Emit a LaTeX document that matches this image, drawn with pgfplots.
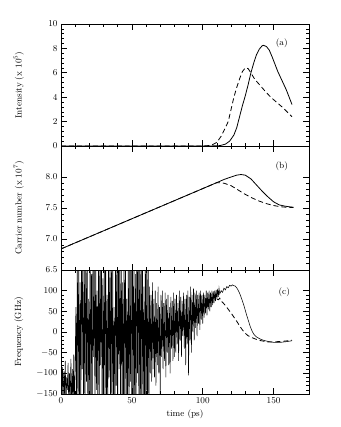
\documentclass[border=0pt]{standalone}
\usepackage{pgfplots}
\pgfplotsset{compat=1.18}
\usepackage{pgfplotstable}

% intensity, panel (a)
\pgfplotstableread{
t I
0 0
100 0
105 0
112 0.03
116 0.15
119 0.4
122 0.9
124 1.5
126 2.4
128 3.3
130 4.1
132 5.0
134 6.0
136 6.8
138 7.5
140 7.95
142 8.22
143 8.25
145 8.15
147 7.85
149 7.3
151 6.7
153 6.1
155 5.6
157 5.1
159 4.6
161 4.0
163 3.4
}\intsolid
\pgfplotstableread{
t I
0 0
100 0
106 0.05
110 0.3
113 0.8
116 1.5
118 2.0
120 3.0
122 4.0
124 4.8
126 5.5
128 6.1
130 6.4
132 6.35
134 6.0
136 5.6
138 5.3
141 4.9
144 4.5
148 4.0
152 3.6
156 3.2
160 2.75
163 2.4
}\intdash

% carrier number, panel (b)
\pgfplotstableread{
t N
0 6.84
110 7.91
115 7.96
120 8.0
124 8.03
127 8.04
130 8.03
134 7.97
138 7.87
142 7.77
146 7.68
150 7.6
154 7.55
158 7.53
164 7.51
}\carsolid
\pgfplotstableread{
t N
0 6.84
110 7.91
115 7.9
120 7.86
125 7.79
130 7.72
135 7.66
140 7.61
145 7.57
150 7.54
155 7.52
160 7.51
164 7.51
}\cardash

% frequency chirp, panel (c)
\pgfplotstableread{
t f
0 -120
0.5 -160
1 -85
1.5 -170
2 -95
2.5 -150
3 -70
3.5 -180
4 -110
4.5 -140
5 -75
5.5 -190
6 -100
6.5 -160
7 -65
7.5 -200
8 -90
8.5 -175
9 -55
9.5 -210
10 -80
10.5 60
11 -220
11.5 210
12 -150
12.5 180
13 -230
13.5 120
14 -200
14.5 240
15 -90
15.5 200
16 -250
16.5 160
17 -180
17.5 230
18 -120
18.5 190
19 -240
19.5 80
20 -200
20.5 250
21 -170
21.5 140
22 -230
22.5 210
23 -60
23.5 180
24 -250
24.5 220
25 -140
25.5 100
26 -210
26.5 240
27 -190
27.5 170
28 -80
28.5 230
29 -240
29.5 130
30 -200
30.5 200
31 -160
31.5 250
32 -220
32.5 90
33 -250
33.5 210
34 -110
34.5 180
35 -230
35.5 240
36 -170
36.5 150
37 -200
37.5 60
38 -240
38.5 220
39 -130
39.5 190
40 -250
40.5 230
41 -90
41.5 170
42 -210
42.5 250
43 -180
43.5 120
44 -240
44.5 200
45 -150
45.5 240
46 -220
46.5 80
47 -200
47.5 210
48 -250
48.5 160
49 -120
49.5 250
50 -230
50.5 190
51 -170
51.5 230
52 -240
52.5 140
53 -190
53.5 220
54 -100
54.5 250
55 -250
55.5 180
56 -210
56.5 240
57 -160
57.5 200
58 -230
58.5 110
59 -250
59.5 230
60 -180
60.5 170
61 -240
61.5 210
62 -200
62.5 110
63 -100
63.5 90
64 -120
64.5 120
65 -90
65.5 80
66 -110
66.5 100
67 -130
67.5 70
68 -80
68.5 110
69 -100
69.5 60
70 -150
70.5 90
71 -60
71.5 100
72 -90
72.5 70
73 -70
73.5 95
74 -110
74.5 80
75 -50
75.5 90
76 -80
76.5 60
77 -100
77.5 85
78 -40
78.5 75
79 -70
79.5 95
80 -60
80.5 80
81 -50
81.5 90
82 -30
82.5 70
83 -70
83.5 100
84 -20
84.5 85
85 -60
85.5 75
86 -10
86.5 95
87 -40
87.5 80
88 -80
88.5 90
89 -30
89.5 100
90 -105
90.5 85
91 -20
91.5 110
92 -50
92.5 90
93 0
93.5 105
94 -20
94.5 95
95 10
95.5 100
96 -10
96.5 90
97 20
97.5 95
98 5
98.5 100
99 30
99.5 90
100 20
100.5 95
101 35
101.5 90
102 45
102.5 100
103 40
103.5 95
104 55
104.5 100
105 50
105.5 95
106 60
106.5 100
107 65
107.5 98
108 70
108.5 100
109 75
109.5 102
110 80
110.5 104
111 85
111.5 106
112 92
113 100
114 96
115 106
116 102
117 110
118 107
119 113
120 111
121 114
122 112
123 111
124 107
125 101
126 94
127 85
128 75
129 65
130 53
131 41
132 30
133 19
134 9
135 1
136 -5
137 -9
138 -12
140 -16
142 -19
145 -22
150 -25
155 -25
160 -23
163 -21
}\freqsolid
\pgfplotstableread{
t f
110 80
111 78
112 82
113 74
114 72
115 68
116 64
118 55
120 46
122 36
124 26
126 15
128 5
130 -3
132 -9
135 -14
138 -18
141 -21
146 -24
150 -24
154 -23
158 -22
163 -20
}\freqdash

\pgfplotsset{
  panel/.style={
    scale only axis, width=248bp,
    xmin=0, xmax=175,
    xtick={0,50,100,150}, minor x tick num=4,
    tick align=inside, major tick length=6pt, minor tick length=3pt,
    axis line style={line width=0.8pt},
    every tick/.style={black, line width=0.6pt},
    font=\small,
    clip=true,
    ylabel style={at={(axis description cs:-0.17,0.5)}, anchor=center},
  },
  solidline/.style={black, line width=0.8pt},
  dashline/.style={black, line width=0.8pt, dash pattern=on 5pt off 3pt},
}

\begin{document}
\begin{tikzpicture}
\useasboundingbox (0,0) rectangle (341bp,427bp);

\begin{axis}[panel, at={(61bp,281bp)}, anchor=south west, height=122bp,
  ymin=0, ymax=10, ytick={0,2,...,10}, minor y tick num=4,
  xticklabels={},
  ylabel={Intensity (x $10^5$)}]
  \addplot[solidline, no marks] table[x=t, y=I] {\intsolid};
  \addplot[dashline, no marks] table[x=t, y=I] {\intdash};
  \node at (rel axis cs:0.89,0.84) {(a)};
\end{axis}

\begin{axis}[panel, at={(61bp,157bp)}, anchor=south west, height=124bp,
  ymin=6.5, ymax=8.5, ytick={6.5,7.0,7.5,8.0}, minor y tick num=4,
  yticklabel style={/pgf/number format/fixed, /pgf/number format/fixed zerofill, /pgf/number format/precision=1},
  xticklabels={},
  ylabel={Carrier number (x $10^7$)}]
  \addplot[solidline, no marks] table[x=t, y=N] {\carsolid};
  \addplot[dashline, no marks] table[x=t, y=N] {\cardash};
  \node at (rel axis cs:0.89,0.84) {(b)};
\end{axis}

\begin{axis}[panel, at={(61bp,33bp)}, anchor=south west, height=124bp,
  ymin=-150, ymax=150, ytick={-150,-100,...,100}, minor y tick num=4,
  xlabel={time (ps)},
  ylabel={Frequency (GHz)}]
  \addplot[black, line width=0.55pt, no marks] table[x=t, y=f] {\freqsolid};
  \addplot[dashline, no marks] table[x=t, y=f] {\freqdash};
  \node at (rel axis cs:0.9,0.82) {(c)};
\end{axis}
\end{tikzpicture}
\end{document}
